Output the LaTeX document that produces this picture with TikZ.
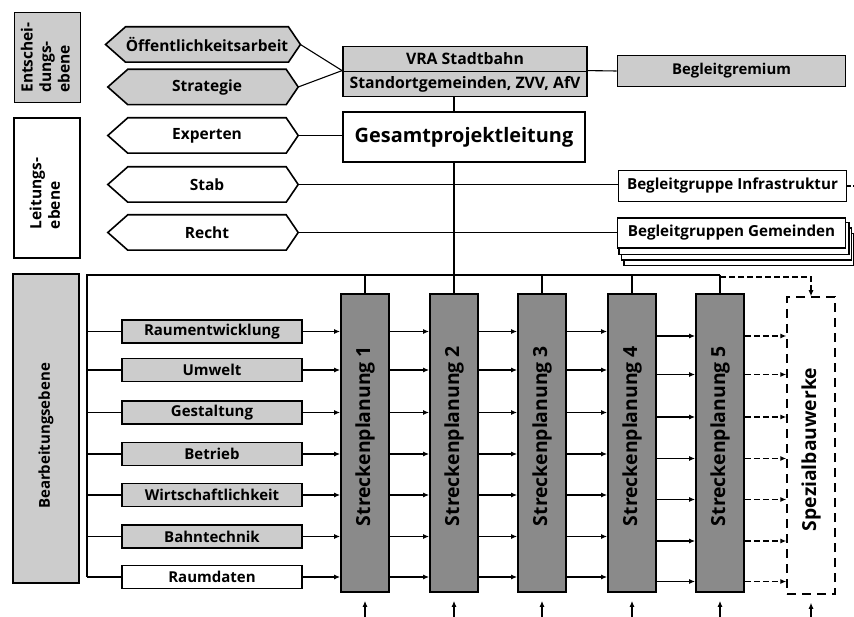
\documentclass[tikz,border=0pt]{standalone}
\usepackage{fontspec}
\setmainfont{Open Sans}
\usepackage{graphicx}
\usetikzlibrary{calc,arrows.meta,backgrounds}

\definecolor{panelgray}{RGB}{204,204,204}
\definecolor{plangray}{RGB}{138,138,138}

% bold text at a given size (size, baselineskip)
\newcommand\fs[2]{\fontsize{#1}{#2}\selectfont\bfseries}

\tikzset{
  frame/.style={draw=black, line width=1.8pt, inner sep=0pt},
  levelbox/.style={frame, minimum width=66pt, font=\fs{15.5}{18.5}},
  hexlabel/.style={inner sep=0pt, minimum width=158pt, minimum height=35pt, font=\fs{15.5}{18}},
  hexedge/.style={draw=black, line width=1.6pt, line join=miter},
  topbox/.style={frame, minimum width=244pt, minimum height=25pt, fill=panelgray, font=\fs{15.8}{18}},
  sidebox/.style={frame, minimum width=228pt, minimum height=31pt, fill=white, font=\fs{15.2}{18}},
  topic/.style={frame, line width=1.5pt, minimum width=180pt, minimum height=23pt, font=\fs{15}{17}},
  plan/.style={frame, fill=plangray, minimum width=48pt, minimum height=298pt, font=\fs{19.4}{22}},
  link/.style={draw=black, line width=1.1pt},
  flow/.style={link, -{Latex[length=6pt,width=5pt]}},
  flowdash/.style={flow, dash pattern=on 6pt off 3pt},
  feed/.style={link, -{Latex[length=6pt,width=5pt]}, shorten >=8pt},
}

% hexagonal label: name, centre, fill, text
\newcommand\hexa[4]{%
  \node[hexlabel] (#1) at (#2) {#4};
  \begin{pgfonlayer}{background}
    \draw[hexedge, fill=#3] (#1.north west) -- (#1.north east) -- ($(#1.east)+(12,0)$)
      -- (#1.south east) -- (#1.south west) -- ($(#1.west)+(-20,0)$) -- cycle;
  \end{pgfonlayer}
  \coordinate (#1 tip) at ($(#1.east)+(12,0)$);
}

\begin{document}
\begin{tikzpicture}[x=1pt,y=-1pt]
\useasboundingbox (0,0) rectangle (854,617);

% ---- level labels on the left
\node[levelbox, fill=panelgray, minimum height=90pt] (lvlE) at (47.5,57.5)
  {\rotatebox{90}{\begin{tabular}{@{}l@{}}Entschei-\\dungs-\\ebene\end{tabular}}};
\node[levelbox, fill=white, minimum height=140pt] (lvlL) at (47,188)
  {\rotatebox{90}{\begin{tabular}{@{}l@{}}Leitungs-\\ebene\end{tabular}\hspace{11pt}}};
\node[levelbox, fill=panelgray, minimum height=309pt, font=\fs{15}{18}] (lvlB) at (46,428.5)
  {\rotatebox{90}{Bearbeitungsebene\hspace{15pt}}};

% ---- hexagonal side functions
\hexa{oeff}{207,44.5}{panelgray}{Öffentlichkeitsarbeit}
\hexa{strat}{207,87}{panelgray}{Strategie}
\hexa{exp}{207,135.5}{white}{Experten}
\hexa{stab}{207,184.5}{white}{Stab}
\hexa{recht}{207,232.5}{white}{Recht}

% ---- steering and management
\node[topbox] (vra) at (465,59) {VRA Stadtbahn};
\node[topbox] (vrb) at (465,84) {Standortgemeinden, ZVV, AfV};
\node[sidebox, fill=panelgray, font=\fs{14.9}{18}] (grem) at (731.5,71) {Begleitgremium};
\node[frame, line width=1.6pt, fill=white, minimum width=242pt, minimum height=50pt,
      font=\fs{19.9}{23}] (gpl) at (464,137) {Gesamtprojektleitung};
\node[sidebox] (infra) at (732.5,186) {Begleitgruppe Infrastruktur};
\node[sidebox, minimum height=30pt] (gem) at (731.5,233) {Begleitgruppen Gemeinden};
\begin{pgfonlayer}{background}
  \foreach \k in {3,2,1}
    \draw[line width=1.5pt, fill=white]
      ($(gem.north west)+(2.5*\k,5.5*\k)$) rectangle ($(gem.south east)+(2.5*\k,5.5*\k)$);
\end{pgfonlayer}
\coordinate (infra out) at (854,186);

% ---- route planning columns
\foreach \i/\x in {1/365,2/454,3/542,4/632,5/720}
  \node[plan] (sp\i) at (\x,443) {\rotatebox{90}{\hspace{14pt}Streckenplanung \i}};
\node[draw=black, line width=1.5pt, dash pattern=on 9pt off 6pt, inner sep=0pt,
      minimum width=48pt, minimum height=297pt, font=\fs{19.3}{22}] (spez) at (811,445.5)
      {\rotatebox{90}{Spezialbauwerke\hspace{8pt}}};

% ---- specialist topics
\foreach \n/\t/\f/\y in {raum/Raumentwicklung/panelgray/331.5, umw/Umwelt/panelgray/370,
    gest/Gestaltung/panelgray/412.5, betr/Betrieb/panelgray/454,
    wirt/Wirtschaftlichkeit/panelgray/495, bahn/Bahntechnik/panelgray/536.5,
    rdat/Raumdaten/white/577}
  \node[topic, fill=\f] (\n) at (212,\y) {\t};

% ---- connectors: steering level
\draw[link] (oeff tip) -- (vrb.north west);
\draw[link] (strat tip) -- (vrb.north west);
\draw[link] (vrb.north east) -- (grem.west);
\draw[link] (vrb.south -| sp2) -- (gpl.north -| sp2);
\draw[link] (gpl.south -| sp2) -- (sp2.north);
\draw[link] (exp tip) -- (exp tip -| gpl.west);
\draw[link] (stab tip) -- (stab tip -| infra.west);
\draw[link] (recht tip) -- (recht tip -| gem.west);
\draw[link, dash pattern=on 4pt off 2pt] (infra.east) -- (infra out);

% ---- distribution bus to the planning columns
\coordinate (bus) at (87,275);
\draw[link] (bus |- rdat.west) -- (bus) -- (bus -| sp5);
\foreach \s in {sp1,sp3,sp4,sp5}
  \draw[link] (bus -| \s) -- (\s.north);
\draw[flowdash] ($(bus -| sp5)+(0,2)$) -- ($(bus -| spez)+(0,2)$) -- (spez.north);

% ---- topic rows through all columns
\foreach \n in {raum,umw,gest,betr,wirt,bahn,rdat}{
  \draw[link] (bus |- \n.west) -- (\n.west);
  \draw[flow] (\n.east) -- (\n.east -| sp1.west);
  \draw[flow] (\n.east -| sp1.east) -- (\n.east -| sp2.west);
  \draw[flow] (\n.east -| sp2.east) -- (\n.east -| sp3.west);
  \draw[flow] (\n.east -| sp3.east) -- (\n.east -| sp4.west);
  \draw[flow] ($(\n.east -| sp4.east)+(0,4.5)$) -- ($(\n.east -| sp5.west)+(0,4.5)$);
  \draw[flowdash] ($(\n.east -| sp5.east)+(0,4.5)$) -- ($(\n.east -| spez.west)+(0,4.5)$);
}

% ---- inputs from below
\foreach \s in {sp1,sp2,sp3,sp4,sp5,spez}{
  \coordinate (\s in) at (\s |- 0,617);
  \draw[feed] (\s in) -- (\s.south);
}
\end{tikzpicture}
\end{document}
